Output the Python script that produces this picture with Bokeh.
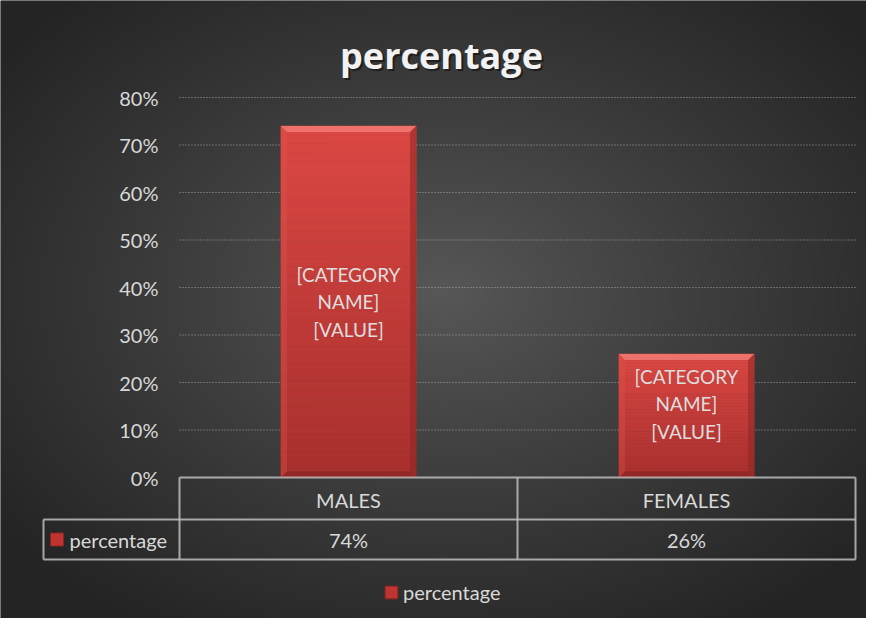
import numpy as np
from bokeh.plotting import figure
from bokeh.models import Range1d, Legend, LegendItem
from bokeh.core.properties import value
from bokeh.embed import file_html
from bokeh.resources import INLINE

# ---------------- data ----------------
categories = ["MALES", "FEMALES"]
percentages = [0.74, 0.26]
y_ticks = [0.0, 0.1, 0.2, 0.3, 0.4, 0.5, 0.6, 0.7, 0.8]
tick_labels = ["0%", "10%", "20%", "30%", "40%", "50%", "60%", "70%", "80%"]
series_name = "percentage"
title_text = "percentage"
bar_label = "[CATEGORY\nNAME]\n[VALUE]"

# ---------------- layout helpers (page pixels -> data) ----------------
W, H = 866, 618
PX0, PX_PER_CAT = 187.0, 338.0
PY0, PX_PER_UNIT = 485.0, 475.0


def X(px):
    return (px - PX0) / PX_PER_CAT


def Y(py):
    return (PY0 - py) / PX_PER_UNIT


FONT = value("Lato")
TXT = "#d9d9d9"

p = figure(width=W, height=H, x_range=Range1d(X(8), X(8 + W)), y_range=Range1d(Y(8 + H), Y(8)),
           output_backend="svg", toolbar_location=None, min_border=0,
           x_axis_location=None, y_axis_location=None, outline_line_color=None)
p.grid.visible = False
p.background_fill_color = "#333333"
p.border_fill_color = "#333333"

# ---------------- radial gradient background ----------------
nx, ny = 433, 309
gx = np.linspace(0, W, nx)
gy = np.linspace(H, 0, ny)  # row 0 = bottom
GX, GY = np.meshgrid(gx, gy)
cx, cy = 450 - 8, 300 - 8
t = np.sqrt(((GX - cx) / 560.0) ** 2 + ((GY - cy) / 400.0) ** 2)
t = np.clip(t, 0, 1) ** 0.9
c_in, c_out = 88.0, 36.0
g = (c_in + (c_out - c_in) * t).astype(np.uint8)
img = np.empty((ny, nx), dtype=np.uint32)
view = img.view(dtype=np.uint8).reshape((ny, nx, 4))
view[:, :, 0] = g
view[:, :, 1] = g
view[:, :, 2] = g
view[:, :, 3] = 255
p.image_rgba(image=[img], x=X(8), y=Y(8 + H), dw=X(8 + W) - X(8), dh=Y(8) - Y(8 + H))

# ---------------- gridlines ----------------
ncat = len(categories)
grid_y = y_ticks[1:]
p.segment(x0=[0] * len(grid_y), x1=[ncat] * len(grid_y), y0=grid_y, y1=grid_y,
          line_color="#b4b4b4", line_dash="1 2", line_width=1, line_alpha=0.85)

# ---------------- y tick labels ----------------
p.text(x=[X(166)] * len(y_ticks), y=y_ticks, text=tick_labels, text_align="right",
       text_baseline="middle", text_font=FONT, text_font_size="20px", text_color=TXT)

# ---------------- bars (vertical gradient + bevel) ----------------
bw = 0.4
xc = [i + 0.5 for i in range(ncat)]
N = 40
c_bot = np.array([0xA8, 0x30, 0x2E])
c_top = np.array([0xDC, 0x48, 0x44])
L, R, B, T, C = [], [], [], [], []
for x, v in zip(xc, percentages):
    for k in range(N):
        f = (k + 0.5) / N
        col = (c_bot + (c_top - c_bot) * f).astype(int)
        L.append(x - bw / 2)
        R.append(x + bw / 2)
        B.append(v * k / N)
        T.append(v * (k + 1) / N)
        C.append("#%02x%02x%02x" % tuple(col))
p.quad(left=L, right=R, bottom=B, top=T, fill_color=C, line_color=C, line_width=0.6)

bx, by = 6 / PX_PER_CAT, 6 / PX_PER_UNIT
top_x, top_y, lft_x, lft_y, rgt_x, rgt_y, bot_x, bot_y = [], [], [], [], [], [], [], []
for x, v in zip(xc, percentages):
    x0, x1 = x - bw / 2, x + bw / 2
    top_x.append([x0, x1, x1 - bx, x0 + bx]); top_y.append([v, v, v - by, v - by])
    lft_x.append([x0, x0 + bx, x0 + bx, x0]); lft_y.append([v, v - by, by, 0])
    rgt_x.append([x1, x1 - bx, x1 - bx, x1]); rgt_y.append([v, v - by, by, 0])
    bot_x.append([x0, x0 + bx, x1 - bx, x1]); bot_y.append([0, by, by, 0])
p.patches(top_x, top_y, fill_color="#f07570", fill_alpha=0.9, line_color=None)
p.patches(lft_x, lft_y, fill_color="#e0534e", fill_alpha=0.35, line_color=None)
p.patches(rgt_x, rgt_y, fill_color="#8c2624", fill_alpha=0.55, line_color=None)
p.patches(bot_x, bot_y, fill_color="#7e2220", fill_alpha=0.55, line_color=None)

# data labels inside bars
label_y = [max(v / 2, min(v - 0.105, 0.2)) for v in percentages]
p.text(x=xc, y=label_y, text=[bar_label] * ncat, text_align="center", text_baseline="middle",
       text_font=FONT, text_font_size="19px", text_color="#dedede", text_line_height=1.2)

# ---------------- title ----------------
TFONT = value("Open Sans")
p.text(x=[X(450)], y=[Y(63)], text=[title_text], text_align="center", text_baseline="alphabetic",
       text_font=TFONT, text_font_style="bold", text_font_size="36px", text_color="#000000",
       text_alpha=0.45, x_offset=1, y_offset=2)
p.text(x=[X(449)], y=[Y(63)], text=[title_text], text_align="center", text_baseline="alphabetic",
       text_font=TFONT, text_font_style="bold", text_font_size="36px", text_color="#f2f2f2")

# ---------------- data table ----------------
bounds = list(range(ncat + 1))
row_top, row_mid, row_bot = Y(485), Y(527), Y(567)
left_cell = X(51)
tx0 = [0, left_cell, left_cell] + bounds + [left_cell]
tx1 = [ncat, ncat, ncat] + bounds + [left_cell]
ty0 = [row_top, row_mid, row_bot] + [row_top] * len(bounds) + [row_mid]
ty1 = [row_top, row_mid, row_bot] + [row_bot] * len(bounds) + [row_bot]
p.segment(x0=tx0, x1=tx1, y0=ty0, y1=ty1, line_color="#bdbdbd", line_width=2, line_alpha=0.85)

p.text(x=xc, y=[Y(507)] * ncat, text=categories, text_align="center", text_baseline="middle",
       text_font=FONT, text_font_size="20px", text_color=TXT)
p.text(x=xc, y=[Y(547)] * ncat, text=["%d%%" % round(v * 100) for v in percentages],
       text_align="center", text_baseline="middle", text_font=FONT, text_font_size="20px",
       text_color=TXT)
key = p.rect(x=[X(64.5)], y=[Y(547)], width=13, height=13, width_units="screen",
             height_units="screen", fill_color="#bd3431", line_color="#8a2422")
p.text(x=[X(77)], y=[Y(547)], text=[series_name], text_align="left", text_baseline="middle",
       text_font=FONT, text_font_size="20px", text_color=TXT)

# ---------------- legend ----------------
legend = Legend(items=[LegendItem(label=series_name, renderers=[key])],
                location=(383, 14), orientation="horizontal", padding=0, margin=0,
                glyph_width=16, glyph_height=16, label_standoff=4,
                label_text_font="Lato", label_text_font_size="20px",
                label_text_color=TXT, background_fill_alpha=0, border_line_alpha=0)
p.add_layout(legend)

open("out.html", "w").write(file_html(p, INLINE))
